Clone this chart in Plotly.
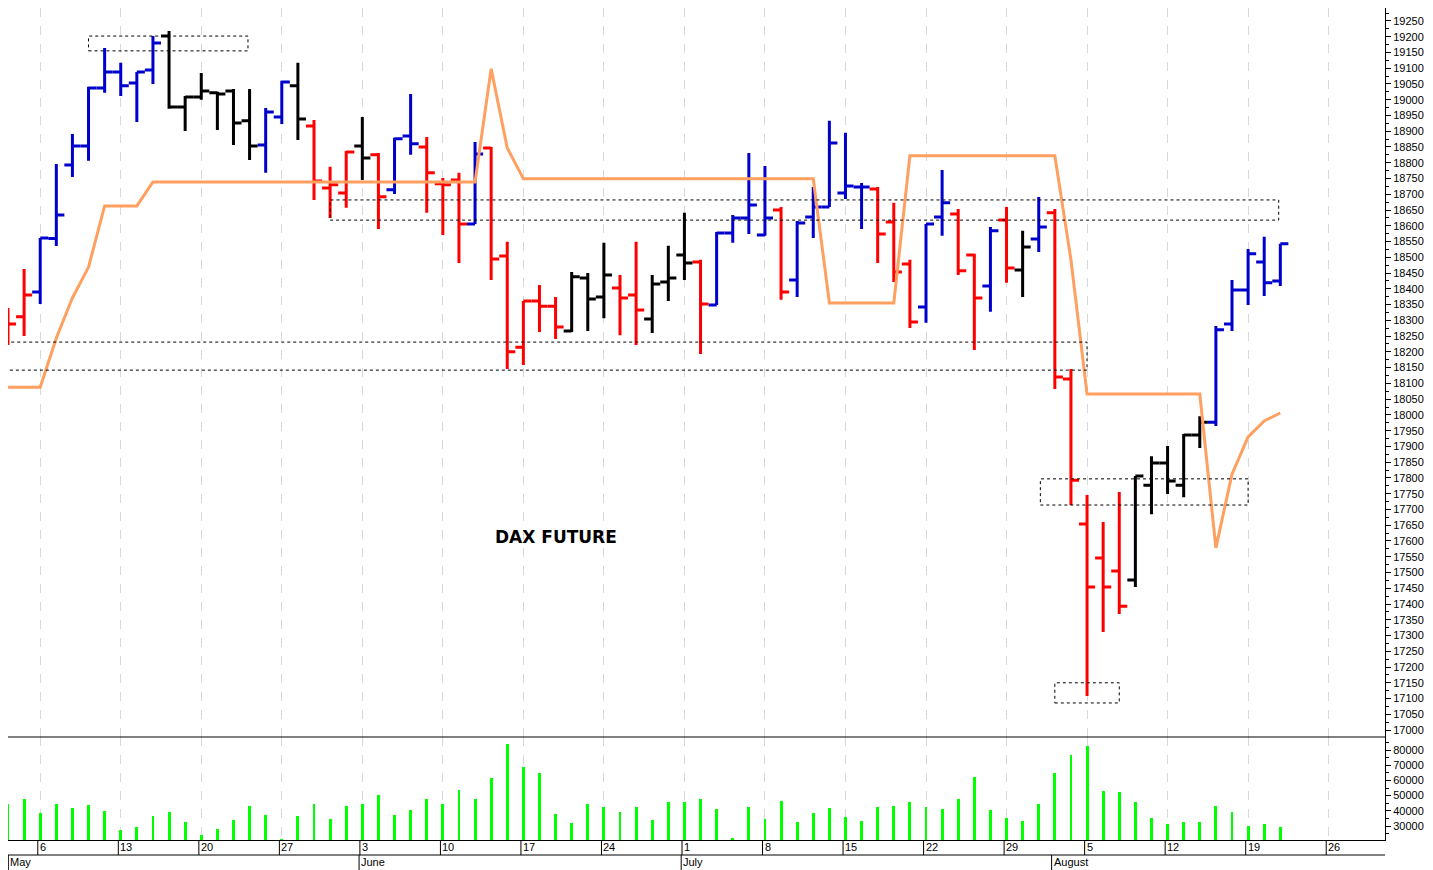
import pandas as pd
import plotly.graph_objects as go
from plotly.subplots import make_subplots

# trading days 2 May - 21 Aug 2024
dates = pd.bdate_range("2024-05-02", "2024-08-21")

opens = [18244, 18311, 18390, 18560, 18793, 18853, 19037, 19088, 19053, 19094,
         19202, 18977, 19009, 19022, 19028, 18933, 18856, 18945, 19044, 18917,
         18720, 18704, 18853, 18825, 18714, 18885, 18850, 18733, 18745, 18606,
         18847, 18504, 18215, 18361, 18345, 18266, 18434, 18374, 18403, 18380,
         18304, 18422, 18507, 18485, 18349, 18577, 18625, 18571, 18650, 18428,
         18628, 18660, 18704, 18723, 18717, 18612, 18479, 18342, 18628, 18637,
         18507, 18409, 18618, 18460, 18558, 18641, 18114, 17654, 17546, 17505,
         17476, 17777, 17847, 17777, 17936, 17977, 18288, 18396, 18485, 18425]
highs = [18339, 18463, 18561, 18796, 18891, 19041, 19164, 19117, 19088, 19202,
         19218, 19012, 19085, 19025, 19034, 19034, 18974, 19060, 19117, 18936,
         18787, 18837, 18945, 18831, 18879, 19018, 18882, 18752, 18768, 18866,
         18850, 18549, 18361, 18412, 18374, 18453, 18450, 18546, 18444, 18549,
         18444, 18537, 18641, 18492, 18580, 18634, 18831, 18790, 18660, 18615,
         18723, 18933, 18895, 18736, 18723, 18673, 18492, 18606, 18777, 18653,
         18511, 18596, 18660, 18584, 18691, 18653, 18146, 17746, 17660, 17755,
         17806, 17869, 17901, 17939, 17996, 18282, 18428, 18526, 18565, 18543]
lows = [18222, 18250, 18352, 18536, 18755, 18806, 19022, 19012, 18929, 19050,
        18971, 18901, 19000, 18904, 18856, 18809, 18768, 18923, 18872, 18682,
        18625, 18657, 18745, 18590, 18701, 18825, 18641, 18571, 18482, 18606,
        18428, 18146, 18158, 18263, 18241, 18263, 18266, 18307, 18253, 18222,
        18260, 18361, 18428, 18193, 18349, 18546, 18574, 18568, 18365, 18374,
        18561, 18660, 18685, 18590, 18482, 18422, 18276, 18292, 18568, 18444,
        18206, 18327, 18419, 18374, 18517, 18082, 17714, 17108, 17311, 17368,
        17454, 17685, 17749, 17739, 17895, 17965, 18266, 18349, 18377, 18409]
closes = [18288, 18380, 18561, 18634, 18853, 19037, 19088, 19044, 19088, 19180,
          18977, 19009, 19028, 19018, 18926, 18853, 18961, 19056, 18939, 18742,
          18730, 18834, 18815, 18692, 18876, 18860, 18768, 18730, 18606, 18828,
          18495, 18200, 18361, 18345, 18279, 18438, 18368, 18444, 18371, 18333,
          18415, 18434, 18482, 18352, 18577, 18625, 18666, 18625, 18390, 18609,
          18660, 18863, 18726, 18723, 18574, 18453, 18295, 18606, 18673, 18457,
          18371, 18584, 18466, 18533, 18596, 18120, 17793, 17454, 17454, 17393,
          17806, 17847, 17790, 17936, 17977, 18270, 18396, 18511, 18419, 18543]
bar_colors = ("rr" + "bbbbbbbb" + "kkkkkk" + "bb" + "k" + "rrr" + "k" + "r" + "bb"
              + "rrr" + "b" + "rrrrr" + "kkk" + "rr" + "kkk" + "r" + "bbbb" + "r"
              + "bbbbb" + "rrr" + "bb" + "rr" + "b" + "r" + "k" + "b" + "rrrrr"
              + "kkkkk" + "bbbbb")
stop_line = [18088, 18088, 18088, 18244, 18371, 18469, 18663, 18663, 18663, 18739,
             18739, 18739, 18739, 18739, 18739, 18739, 18739, 18739, 18739, 18739,
             18739, 18739, 18739, 18739, 18739, 18739, 18739, 18739, 18739, 18739,
             19098, 18847, 18749, 18749, 18749, 18749, 18749, 18749, 18749, 18749,
             18749, 18749, 18749, 18749, 18749, 18749, 18749, 18749, 18749, 18749,
             18749, 18355, 18355, 18355, 18355, 18355, 18822, 18822, 18822, 18822,
             18822, 18822, 18822, 18822, 18822, 18822, 18492, 18066, 18066, 18066,
             18066, 18066, 18066, 18066, 18066, 17578, 17812, 17930, 17981, 18006]
volume = [44500, 47800, 38500, 44500, 41800, 43800, 39900, 27400, 29300, 36600,
          39200, 32600, 24000, 28000, 34000, 43000, 37000, 21500, 36600, 44500,
          34600, 43000, 44500, 50400, 37000, 40500, 47800, 44500, 53700, 47800,
          61600, 84000, 68800, 64900, 37900, 32000, 44500, 42500, 39200, 42500,
          34000, 45800, 45800, 47800, 41000, 22000, 42500, 34600, 46500, 32600,
          38500, 41800, 35900, 33300, 42500, 43000, 45800, 42500, 41000, 47800,
          62000, 40500, 35300, 33300, 44500, 64900, 76700, 82600, 53000, 52400,
          45800, 35300, 31300, 32600, 32600, 43000, 39200, 30000, 31300, 29300]

week_pos = list(range(2, 83, 5))
week_labels = ["6", "13", "20", "27", "3", "10", "17", "24", "1", "8", "15",
               "22", "29", "5", "12", "19", "26"]
month_pos = [0.02, 21.8, 41.8, 64.8]
month_labels = ["May", "June", "July", "August"]

# dashed support/resistance boxes: (x0, x1, y0, y1)
boxes = [(5, 14.9, 19155, 19202), (20, 78.9, 18618, 18682), (-1, 67, 18142, 18231),
         (64.1, 77, 17714, 17797), (65, 69, 17086, 17150)]

x = list(range(len(dates)))
colmap = {"b": "#0000CC", "r": "#FF0000", "k": "#000000"}

vol_frac = 103 / 832
day_row = 15 / 832

fig = make_subplots(rows=2, cols=1, shared_xaxes=True, vertical_spacing=0,
                    row_heights=[1 - vol_frac, vol_frac])

for code, col in colmap.items():
    idx = [i for i in x if bar_colors[i] == code]
    fig.add_trace(go.Ohlc(
        x=idx, open=[opens[i] for i in idx], high=[highs[i] for i in idx],
        low=[lows[i] for i in idx], close=[closes[i] for i in idx],
        increasing=dict(line=dict(color=col, width=3)),
        decreasing=dict(line=dict(color=col, width=3)),
        tickwidth=0.5, showlegend=False, hoverinfo="skip"), row=1, col=1)

fig.add_trace(go.Scatter(x=x, y=stop_line, mode="lines",
                         line=dict(color="#FFA060", width=3), showlegend=False),
              row=1, col=1)
fig.add_trace(go.Bar(x=x, y=volume, width=0.18, marker_color="#00FF00",
                     marker_line_width=0, showlegend=False), row=2, col=1)

for x0, x1, y0, y1 in boxes:
    fig.add_shape(type="rect", x0=x0, x1=x1, y0=y0, y1=y1, xref="x", yref="y",
                  line=dict(color="black", width=1, dash="dot"))

fig.add_annotation(x=34, y=17613, xref="x", yref="y", text="<b>DAX FUTURE</b>",
                   showarrow=False, font=dict(family="DejaVu Sans", size=17, color="black"))

# panel separator and date scale
fig.add_shape(type="line", xref="paper", yref="paper", x0=0, x1=1, y0=vol_frac, y1=vol_frac,
              line=dict(color="black", width=1))
fig.add_shape(type="line", xref="paper", yref="paper", x0=0, x1=1, y0=-day_row, y1=-day_row,
              line=dict(color="black", width=1))
for p, lab in zip(week_pos, week_labels):
    fig.add_shape(type="line", xref="x", yref="paper", x0=p - 0.15, x1=p - 0.15, y0=0,
                  y1=-day_row, line=dict(color="black", width=1))
    fig.add_annotation(x=p - 0.15, y=0, xref="x", yref="paper", text=lab, showarrow=False,
                       xanchor="left", yanchor="top", xshift=0, yshift=1,
                       font=dict(family="Liberation Sans", size=11, color="black"))
for p, lab in zip(month_pos, month_labels):
    fig.add_shape(type="line", xref="x", yref="paper", x0=p, x1=p, y0=-day_row,
                  y1=-2 * day_row, line=dict(color="black", width=1))
    fig.add_annotation(x=p, y=-day_row, xref="x", yref="paper", text=lab,
                       showarrow=False, xanchor="left", yanchor="top", xshift=0, yshift=1,
                       font=dict(family="Liberation Sans", size=11, color="black"))

fig.update_xaxes(range=[0, 85.5], tickvals=week_pos, showticklabels=False,
                 showgrid=True, gridcolor="#D8D8D8", griddash="dash", gridwidth=1,
                 zeroline=False, ticks="", rangeslider=dict(visible=False))
fig.update_xaxes(showline=True, linecolor="black", row=2, col=1)

tick_font = dict(family="Liberation Sans", size=11, color="black")
fig.update_yaxes(side="right", range=[16978, 19291], dtick=50, tick0=17000, tickformat="d",
                 showgrid=False, zeroline=False, showline=True, linecolor="black",
                 ticks="outside", ticklen=5, tickcolor="black", tickfont=tick_font,
                 minor=dict(dtick=25, ticks="outside", ticklen=3, tickcolor="black"),
                 row=1, col=1)
fig.update_yaxes(side="right", range=[20800, 88600], tickvals=list(range(30000, 80001, 10000)),
                 tickformat="d", showgrid=False, zeroline=False, showline=True,
                 linecolor="black", ticks="outside", ticklen=5, tickcolor="black",
                 tickfont=tick_font,
                 minor=dict(dtick=5000, ticks="outside", ticklen=3, tickcolor="black"),
                 row=2, col=1)

fig.update_layout(width=1433, height=870, margin=dict(l=0, r=56, t=0, b=38),
                  plot_bgcolor="white", paper_bgcolor="white", bargap=0)

fig.write_html("out.html")
